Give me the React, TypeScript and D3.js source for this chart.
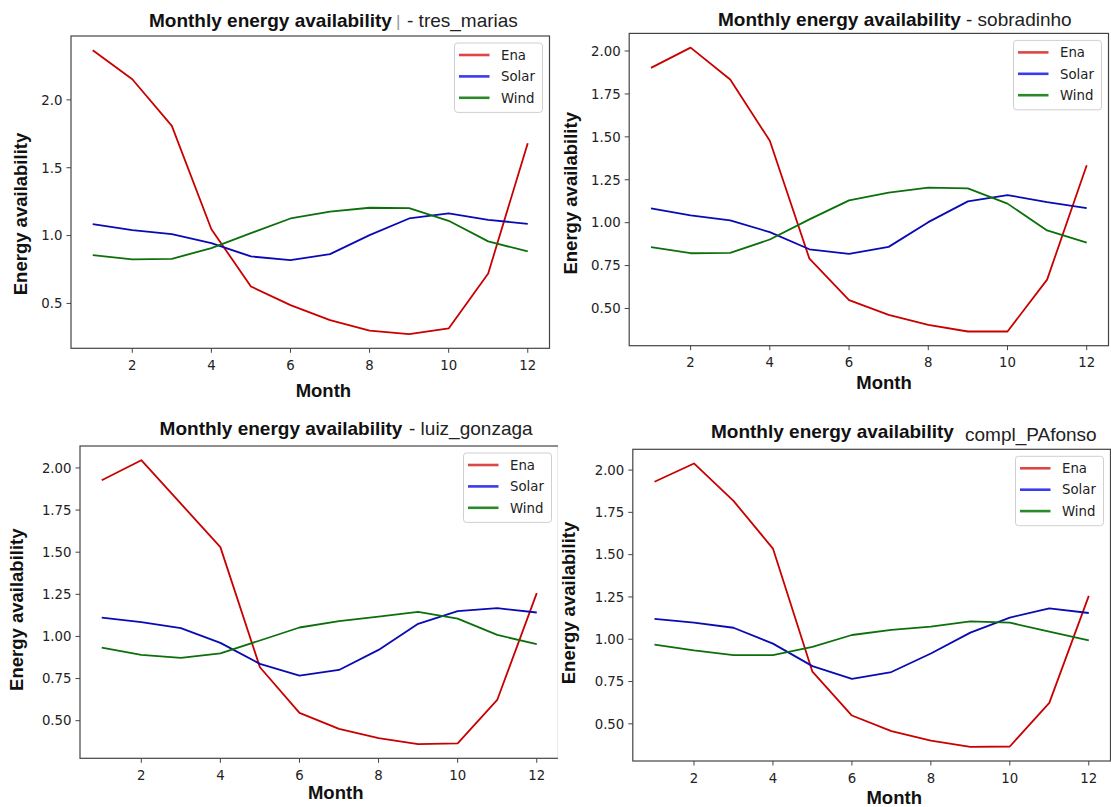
import * as d3 from 'd3'

// values
const months = [1, 2, 3, 4, 5, 6, 7, 8, 9, 10, 11, 12]
const xTicks = [2, 4, 6, 8, 10, 12]
const yTicksCoarse = [0.5, 1.0, 1.5, 2.0]
const yTicksFine = [0.5, 0.75, 1.0, 1.25, 1.5, 1.75, 2.0]
const seriesNames = ['Ena', 'Solar', 'Wind']

const tresMariasEna = [2.366, 2.152, 1.808, 1.047, 0.625, 0.488, 0.377, 0.299, 0.274, 0.316, 0.721, 1.681]
const tresMariasSolar = [1.084, 1.04, 1.011, 0.944, 0.846, 0.819, 0.863, 1.003, 1.126, 1.163, 1.116, 1.087]
const tresMariasWind = [0.856, 0.824, 0.829, 0.907, 1.018, 1.126, 1.177, 1.205, 1.202, 1.109, 0.957, 0.883]

const sobradinhoEna = [1.902, 2.02, 1.834, 1.477, 0.79, 0.549, 0.463, 0.404, 0.366, 0.366, 0.668, 1.335]
const sobradinhoSolar = [1.083, 1.042, 1.013, 0.945, 0.845, 0.818, 0.859, 1.003, 1.124, 1.161, 1.12, 1.085]
const sobradinhoWind = [0.857, 0.822, 0.824, 0.902, 1.019, 1.13, 1.175, 1.204, 1.2, 1.111, 0.955, 0.884]

const luizGonzagaEna = [1.927, 2.046, 1.788, 1.53, 0.817, 0.546, 0.451, 0.397, 0.361, 0.365, 0.623, 1.257]
const luizGonzagaSolar = [1.112, 1.085, 1.049, 0.962, 0.837, 0.768, 0.801, 0.92, 1.075, 1.15, 1.168, 1.142]
const luizGonzagaWind = [0.934, 0.89, 0.873, 0.9, 0.976, 1.053, 1.091, 1.118, 1.146, 1.106, 1.009, 0.954]

const complPAfonsoEna = [1.931, 2.039, 1.818, 1.536, 0.808, 0.549, 0.457, 0.401, 0.364, 0.366, 0.624, 1.256]
const complPAfonsoSolar = [1.12, 1.098, 1.068, 0.974, 0.841, 0.766, 0.806, 0.916, 1.039, 1.128, 1.183, 1.155]
const complPAfonsoWind = [0.968, 0.934, 0.906, 0.906, 0.955, 1.025, 1.055, 1.074, 1.106, 1.098, 1.045, 0.993]

const lineColors = ['#c80000', '#0a0ab4', '#0b700b']
const legendColors = ['#dd4646', '#3a3aee', '#2a8a2a']

const boldFont = '"Liberation Sans", Arial, sans-serif'
const tickFont = '"DejaVu Sans", sans-serif'
const frameColor = '#444'

// layout of the four sub-images
const panels = [
  {
    name: 'tres_marias', series: [tresMariasEna, tresMariasSolar, tresMariasWind],
    yTicks: yTicksCoarse, yFmt: '.1f',
    box: { l: 71, t: 36, r: 549.5, b: 348.3 },
    title: { x: 149, y: 27, sx: 407, sy: 27, suffix: '- tres_marias', bar: 396 },
    ylab: { x: 26.5, y: 214 }, xlab: { x: 323.4, y: 397 },
  },
  {
    name: 'sobradinho', series: [sobradinhoEna, sobradinhoSolar, sobradinhoWind],
    yTicks: yTicksFine, yFmt: '.2f',
    box: { l: 629.2, t: 33.4, r: 1108.5, b: 345.7 },
    title: { x: 718, y: 26, sx: 966, sy: 26, suffix: '- sobradinho', bar: null },
    ylab: { x: 576.6, y: 193.3 }, xlab: { x: 884, y: 389 },
  },
  {
    name: 'luiz_gonzaga', series: [luizGonzagaEna, luizGonzagaSolar, luizGonzagaWind],
    yTicks: yTicksFine, yFmt: '.2f',
    box: { l: 80, t: 446, r: 558.5, b: 758.3 },
    title: { x: 159.6, y: 435, sx: 409, sy: 435, suffix: '- luiz_gonzaga', bar: null },
    ylab: { x: 22.9, y: 609.7 }, xlab: { x: 335.7, y: 798.5 },
  },
  {
    name: 'compl_PAfonso', series: [complPAfonsoEna, complPAfonsoSolar, complPAfonsoWind],
    yTicks: yTicksFine, yFmt: '.2f',
    box: { l: 632.8, t: 449.3, r: 1110.5, b: 761 },
    title: { x: 711, y: 438, sx: 965, sy: 440.5, suffix: 'compl_PAfonso', bar: null },
    ylab: { x: 575, y: 603 }, xlab: { x: 894.2, y: 804 },
  },
]

const Panel = ({ p }) => {
  const { box } = p
  const all = p.series.flat()
  const lo = d3.min(all), hi = d3.max(all)
  const pad = (hi - lo) * 0.05
  const x = d3.scaleLinear().domain([1 - 0.55, 12 + 0.55]).range([box.l, box.r])
  const y = d3.scaleLinear().domain([lo - pad, hi + pad]).range([box.b, box.t])
  const line = d3.line().x((d, i) => x(months[i])).y(d => y(d))
  const fmt = d3.format(p.yFmt)
  const legW = 88, legH = 69.4
  const legX = box.r - 7 - legW, legY = box.t + 7

  return (
    <g>
      {/* title */}
      <text x={p.title.x} y={p.title.y} fontFamily={boldFont} fontWeight="bold" fontSize={19} fill="#111">
        Monthly energy availability
      </text>
      {p.title.bar != null && (
        <text x={p.title.bar} y={p.title.y} fontFamily={boldFont} fontSize={17} fill="#999">|</text>
      )}
      <text x={p.title.sx} y={p.title.sy} fontFamily={boldFont} fontSize={19} fill="#222">
        {p.title.suffix}
      </text>

      {/* series */}
      {p.series.map((s, i) => (
        <path key={i} d={line(s)} fill="none" stroke={lineColors[i]} strokeWidth={1.8} strokeLinejoin="round" />
      ))}

      {/* frame */}
      <rect x={box.l} y={box.t} width={box.r - box.l} height={box.b - box.t} fill="none" stroke={frameColor} strokeWidth={1.2} />

      {/* x axis */}
      {xTicks.map(t => (
        <g key={t}>
          <line x1={x(t)} x2={x(t)} y1={box.b} y2={box.b + 4.5} stroke={frameColor} strokeWidth={1} />
          <text x={x(t)} y={box.b + 21.5} textAnchor="middle" fontFamily={tickFont} fontSize={13.3} fill="#222">{t}</text>
        </g>
      ))}
      {/* y axis */}
      {p.yTicks.map(t => (
        <g key={t}>
          <line x1={box.l - 4.5} x2={box.l} y1={y(t)} y2={y(t)} stroke={frameColor} strokeWidth={1} />
          <text x={box.l - 8.5} y={y(t)} dy="0.36em" textAnchor="end" fontFamily={tickFont} fontSize={13.3} fill="#222">{fmt(t)}</text>
        </g>
      ))}

      <text x={p.xlab.x} y={p.xlab.y} textAnchor="middle" fontFamily={boldFont} fontWeight="bold" fontSize={18.5} fill="#111">Month</text>
      <text transform={`translate(${p.ylab.x},${p.ylab.y}) rotate(-90)`} textAnchor="middle" fontFamily={boldFont} fontWeight="bold" fontSize={18.5} fill="#111">Energy availability</text>

      {/* legend */}
      <rect x={legX} y={legY} width={legW} height={legH} rx={3} fill="#fff" fillOpacity={0.85} stroke="#cfcfcf" strokeWidth={1} />
      {seriesNames.map((n, i) => (
        <g key={n}>
          <line x1={legX + 4.5} x2={legX + 35} y1={legY + 12 + i * 21.4} y2={legY + 12 + i * 21.4} stroke={legendColors[i]} strokeWidth={2.6} />
          <text x={legX + 46.5} y={legY + 12 + i * 21.4} dy="0.36em" fontFamily={tickFont} fontSize={13.3} fill="#222">{n}</text>
        </g>
      ))}
    </g>
  )
}

export default function App() {
  return (
    <svg width={1111} height={807} style={{ position: 'absolute', left: 0, top: 0, background: '#fff' }}>
      <rect width={1111} height={807} fill="#fff" />
      <Panel p={panels[0]} />
      <Panel p={panels[1]} />
      <Panel p={panels[2]} />
      {/* the lower right image sits over the edge of the lower left one */}
      <rect x={558} y={400} width={553} height={407} fill="#fff" />
      <Panel p={panels[3]} />
    </svg>
  )
}
